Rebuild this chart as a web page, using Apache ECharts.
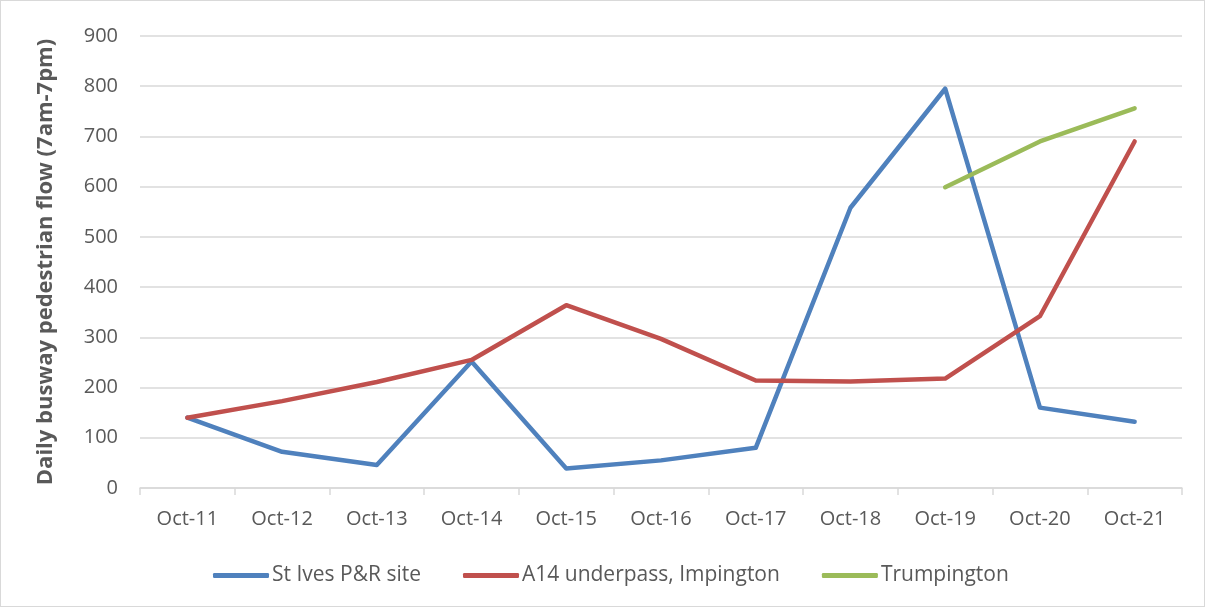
<!DOCTYPE html>
<html>
<head>
<meta charset="utf-8">
<script src="https://cdn.jsdelivr.net/npm/echarts@6/dist/echarts.min.js"></script>
<style>
html,body{margin:0;padding:0;background:#fff;}
#wrap{position:absolute;left:0;top:0;width:1203px;height:605px;border:1px solid #d9d9d9;}
#chart{width:1205px;height:607px;position:absolute;left:0;top:0;}
</style>
</head>
<body>
<div id="wrap"></div>
<div id="chart"></div>
<script>
const categories = ['Oct-11','Oct-12','Oct-13','Oct-14','Oct-15','Oct-16','Oct-17','Oct-18','Oct-19','Oct-20','Oct-21'];
const stIves = [140, 72, 46, 252, 39, 55, 80, 558, 795, 160, 132];
const a14 = [140, 173, 211, 255, 364, 297, 214, 212, 218, 342, 690];
const trumpington = [null, null, null, null, null, null, null, null, 599, 690, 756];
const seriesNames = ['St Ives P&R site', 'A14 underpass, Impington', 'Trumpington'];
const yTitle = 'Daily busway pedestrian flow (7am-7pm)';

const FONT = '"Open Sans", sans-serif';
const chart = echarts.init(document.getElementById('chart'));
const colors = ['#4f81bd', '#c0504d', '#9bbb59'];
const mk = (name, data, c) => ({
  name, type: 'line', data, symbol: 'none', connectNulls: false,
  lineStyle: { width: 4.5, color: c, cap: 'round', join: 'round' }, itemStyle: { color: c }
});
chart.setOption({
  animation: false,
  textStyle: { fontFamily: FONT },
  grid: { left: 140, right: 23, top: 36, bottom: 119 },
  legend: {
    top: 560, left: 208,
    itemWidth: 56, itemHeight: 5, itemGap: 42, icon: 'roundRect',
    textStyle: { fontSize: 21, color: '#595959', fontFamily: FONT, padding: [0, 0, 0, -2] },
    data: seriesNames
  },
  xAxis: {
    type: 'category', data: categories, boundaryGap: true,
    axisLine: { lineStyle: { color: '#d9d9d9', width: 1.5 } },
    axisTick: { show: true, length: 7, lineStyle: { color: '#d9d9d9', width: 1.5 } },
    axisLabel: { fontSize: 20, color: '#595959', margin: 21, fontFamily: FONT }
  },
  yAxis: {
    type: 'value', min: 0, max: 900, interval: 100,
    name: yTitle, nameLocation: 'middle', nameGap: 83, nameRotate: 90,
    nameTextStyle: { fontSize: 22, fontWeight: 'bold', color: '#595959', fontFamily: FONT },
    axisLine: { show: false }, axisTick: { show: false },
    axisLabel: { fontSize: 20, color: '#595959', margin: 22, fontFamily: FONT },
    splitLine: { lineStyle: { color: '#d9d9d9', width: 1.5 } }
  },
  series: [mk(seriesNames[0], stIves, colors[0]), mk(seriesNames[1], a14, colors[1]), mk(seriesNames[2], trumpington, colors[2])]
});
</script>
</body>
</html>
